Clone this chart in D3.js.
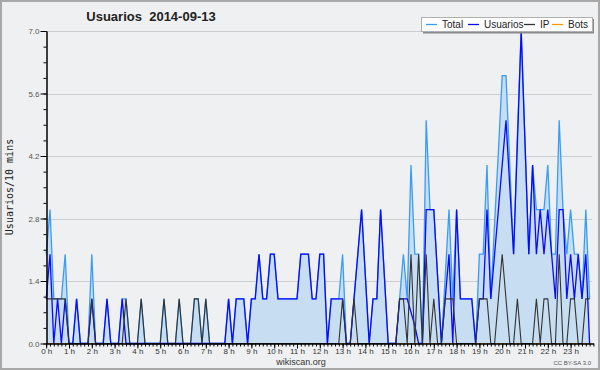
<!DOCTYPE html>
<html><head><meta charset="utf-8">
<script src="https://cdn.jsdelivr.net/npm/d3@7"></script>
<style>body{margin:0;background:#fff}svg{display:block}</style>
</head><body>
<svg id="c" width="600" height="370"></svg>
<script>
// 144 values, one per 10 minutes
const total = [2,3,1,1,1,2,0,0,1,0,0,0,2,0,0,0,1,0,0,0,1,1,0,0,0,1,0,0,0,0,0,1,0,0,0,1,0,0,0,1,1,0,1,0,0,0,0,0,
1,0,1,1,1,0,1,1,2,1,1,2,2,1,1,1,1,1,1,2,2,2,1,1,2,2,0,1,1,1,2,0,0,1,2,3,1.5,0,1,1,3,1.5,0,0,0,1,2,1,
4,2,2,0,5,3,3,1.5,0,1.5,3,1,3,1,1,1,1,0,2,2,4,1,2.7,4.3,6,6,4,2,4.7,7,4.5,2,4,3,3,3,4,2,2,5,3,2,3,2,2,1,3,1];
const usuarios = [1,2,0,1,0,1,0,0,1,0,0,0,1,0,0,0,1,0,0,0,1,0,0,0,0,0,0,0,0,0,0,0,0,0,0,0,0,0,0,0,0,0,0,0,0,0,0,0,
1,0,1,1,1,0,1,1,2,1,1,2,2,1,1,1,1,1,1,2,2,2,1,1,2,2,0,1,1,1,1,0,0,1,2,3,1.5,0,1,1,3,1.5,0,0,0,1,1,1,
0.7,0.4,0,0,3,3,3,1.5,0,1,2,0,3,1,1,1,1,0,1,1,3,1,2,3,4,5,3.5,2,4.5,7,4.5,2,4,2,3,2,3,2,1,3,3,1,2,1,2,1,2,0];
const ip = [1,1,1,1,1,1,0,0,0,0,0,0,1,0,0,0,0,0,0,0,0,1,0,0,0,1,0,0,0,0,0,1,0,0,0,1,0,0,0,1,1,0,1,0,0,0,0,0,
0,0,0,0,0,0,0,0,0,0,0,0,0,0,0,0,0,0,0,0,0,0,0,0,0,0,0,0,0,0,1,0,0,1,0,0,0,0,0,0,0,0,0,0,0,1,1,0,
2,0,2,0,2,0,1,0,0,1,1,1,0,0,0,0,0,0,1,1,1,0,0,1,2,1,0,0,1,0,0,0,0,1,0,1,1,0,0,2,0,0,1,1,0,0,1,1];
const bots = [0,0,0,0,0,0,0,0,0,0,0,0,0,0,0,0,0,0,0,0,0,0,0,0,0,0,0,0,0,0,0,0,0,0,0,0,0,0,0,0,0,0,0,0,0,0,0,0,
0,0,0,0,0,0,0,0,0,0,0,0,0,0,0,0,0,0,0,0,0,0,0,0,0,0,0,0,0,0,0,0,0,0,0,0,0,0,0,0,0,0,0,0,0,0,0,0,
0,0,0,0,0,0,0,0,0,0,0,0,0,0,0,0,0,0,0,0,0,0,0,0,0,0,0,0,0,0,0,0,0,0,0,0,0,0,0,0,0,0,0,0,0,0,0,0];
const hourLabels = ["0 h","1 h","2 h","3 h","4 h","5 h","6 h","7 h","8 h","9 h","10 h","11 h","12 h","13 h","14 h","15 h","16 h","17 h","18 h","19 h","20 h","21 h","22 h","23 h"];
const yMajor = [0,1.4,2.8,4.2,5.6,7.0];
const seriesNames = ["Total","Usuarios","IP","Bots"];
const seriesColors = ["#3a9cf5","#0a0aff","#333333","#ff9900"];

const svg = d3.select("#c");
const FONT = "'Liberation Sans', Arial, sans-serif";
svg.append("rect").attr("x",1).attr("y",1).attr("width",598).attr("height",368)
  .attr("fill","#eff0f1").attr("stroke","#a8a8a8").attr("stroke-width",2);

const x = d3.scaleLinear().domain([0,144]).range([46.2, 593.4]);
const y = d3.scaleLinear().domain([0,7]).range([343.5, 31]);
const idx = d3.range(total.length);

// gridlines
svg.append("g").selectAll("line").data(yMajor.filter(d=>d>0)).join("line")
  .attr("x1",46).attr("x2",592).attr("y1",d=>Math.round(y(d))+0.5).attr("y2",d=>Math.round(y(d))+0.5)
  .attr("stroke","#cdcdcd").attr("stroke-width",1);

// area
svg.append("path").datum(idx)
  .attr("d", d3.area().x(i=>x(i)).y0(y(0)).y1(i=>y(total[i])))
  .attr("fill","#c6ddf2");

const line = arr => d3.line().x(i=>x(i)).y(i=>y(arr[i]))(idx);
svg.append("path").attr("d",line(bots)).attr("fill","none").attr("stroke",seriesColors[3]).attr("stroke-width",1.2);
svg.append("path").attr("d",line(total)).attr("fill","none").attr("stroke",seriesColors[0]).attr("stroke-width",1.3);
svg.append("path").attr("d",line(usuarios)).attr("fill","none").attr("stroke",seriesColors[1]).attr("stroke-width",1.3);
svg.append("path").attr("d",line(ip)).attr("fill","none").attr("stroke",seriesColors[2]).attr("stroke-width",1.1);

// y axis
const yMinor = d3.range(0,21).map(k=>k*0.35);
const gy = svg.append("g").attr("transform","translate(46.5,0)");
gy.call(d3.axisLeft(y).tickValues(yMinor).tickSize(3).tickFormat("").tickSizeOuter(0));
gy.call(g=>g.selectAll("line").attr("stroke","#000"));
const gy2 = svg.append("g").attr("transform","translate(46.5,0)");
gy2.call(d3.axisLeft(y).tickValues(yMajor).tickSize(6).tickFormat(d3.format(".1f")).tickSizeOuter(0));
gy2.selectAll("text").attr("font-family",FONT).attr("font-size",8).attr("fill","#555").attr("x",-7);
gy.select(".domain").attr("stroke","#000");
gy2.select(".domain").attr("stroke","#000");

// x axis
const gx = svg.append("g").attr("transform","translate(0,343.5)");
gx.call(d3.axisBottom(x).tickValues(d3.range(0,145)).tickSize(3).tickFormat("").tickSizeOuter(0));
const gx2 = svg.append("g").attr("transform","translate(0,343.5)");
gx2.call(d3.axisBottom(x).tickValues(d3.range(0,24).map(h=>h*6)).tickSize(5).tickFormat((d,i)=>hourLabels[i]).tickSizeOuter(0));
gx2.selectAll("text").attr("font-family",FONT).attr("font-size",8).attr("fill","#333").attr("y",5);
svg.selectAll(".domain").attr("stroke","#000");

// title
svg.append("text").attr("x",151).attr("y",21).attr("text-anchor","middle")
  .attr("font-family",FONT).attr("font-weight","bold").attr("font-size",13).attr("fill","#222")
  .style("white-space","pre").text("Usuarios  2014-09-13");

// y label
svg.append("text").attr("transform","translate(13,187) rotate(-90)").attr("text-anchor","middle")
  .attr("font-family","'DejaVu Sans Mono', monospace").attr("font-size",10).attr("fill","#222")
  .text("Usuarios/10 mins");

// footer
svg.append("text").attr("x",301).attr("y",365).attr("text-anchor","middle")
  .attr("font-family",FONT).attr("font-size",9).attr("fill","#333").text("wikiscan.org");
svg.append("text").attr("x",591).attr("y",365).attr("text-anchor","end")
  .attr("font-family",FONT).attr("font-size",6).attr("fill","#555").text("CC BY-SA 3.0");

// legend
const lg = svg.append("g");
lg.append("rect").attr("x",423).attr("y",19).attr("width",171).attr("height",14.5).attr("fill","#8a8a8a");
lg.append("rect").attr("x",421.5).attr("y",17.5).attr("width",171).attr("height",14).attr("fill","#fff").attr("stroke","#b0b0b0");
const lx = [426,468,524,552];
seriesNames.forEach((n,k)=>{
  lg.append("line").attr("x1",lx[k]).attr("x2",lx[k]+11).attr("y1",24.5).attr("y2",24.5)
    .attr("stroke",seriesColors[k]).attr("stroke-width",1.3);
  lg.append("text").attr("x",lx[k]+16).attr("y",28.2).attr("font-family",FONT).attr("font-size",10)
    .attr("fill","#222").text(n);
});
</script>
</body></html>
